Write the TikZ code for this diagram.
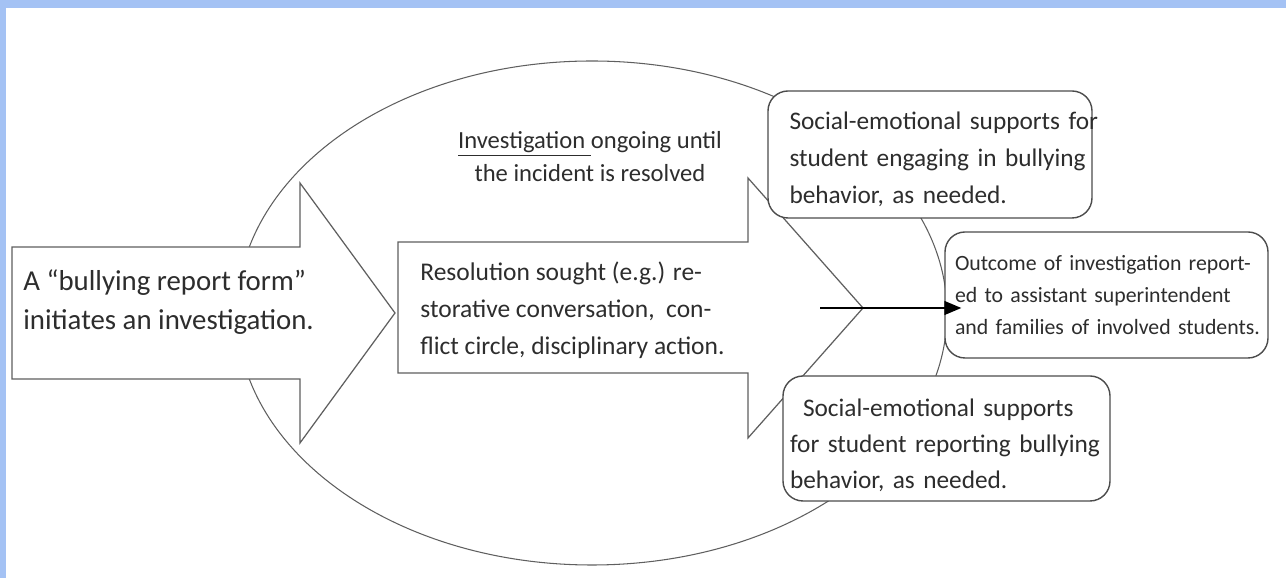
\documentclass[tikz,border=0pt]{standalone}
\usepackage{fontspec}
\setmainfont{Carlito}
\usepackage{tikz}
\usetikzlibrary{arrows.meta}

\definecolor{framebg}{RGB}{164,194,244}
\definecolor{lineg}{RGB}{95,95,95}
\definecolor{textg}{RGB}{45,45,45}

% box text: lines kept as typed, lowered a little inside the box
\newcommand{\boxlines}[2]{\raisebox{-#1}[\height][\depth]{\begin{tabular}{@{}l@{}}#2\end{tabular}}}

\begin{document}
\begin{tikzpicture}[
  blockarrow/.style={draw=lineg, fill=white, line width=0.7pt, line join=miter},
  supportbox/.style={draw=black!70, fill=white, rounded corners=0.4cm, line width=0.8pt,
    minimum width=6.54cm, minimum height=2.5cm, align=left, text=textg},
  every node/.style={text=textg}
]

\useasboundingbox (-11.8, -5.3) rectangle (13.92, 6.26);
\fill[framebg] (-11.8, 6.1) rectangle (13.92, 6.26);
\fill[framebg] (-11.8, -5.3) rectangle (-11.68, 6.26);

\draw[draw=lineg, line width=0.6pt] (0.04, 0) ellipse (7.1cm and 5.04cm);

\draw[blockarrow] (-11.56, 1.32) -- (-5.8, 1.32) -- (-5.8, 2.6) -- (-3.9, 0) -- (-5.8, -2.6) -- (-5.8, -1.32) -- (-11.56, -1.32) -- cycle;
\draw[blockarrow] (-3.84, 1.42) -- (3.16, 1.42) -- (3.16, 2.7) -- (5.46, 0.1) -- (3.16, -2.5) -- (3.16, -1.2) -- (-3.84, -1.2) -- cycle;

\node (ongoing) at (0, 3.13) [align=center, inner sep=0pt, font=\fontsize{14}{18.7}\selectfont] {\underline{Investigation\ }ongoing until\\the incident is resolved};
\node (form) at (-11.34, 0.21) [anchor=west, align=left, inner sep=0pt, font=\fontsize{16.4}{22.1}\selectfont] {A “bullying report form”\\initiates an investigation.};
\node (resolve) at (-3.4, 0.06) [anchor=west, align=left, inner sep=0pt, font=\fontsize{14.5}{21}\selectfont] {Resolution sought (e.g.) re-\\storative conversation,\ \ con-\\flict circle, disciplinary action.};

\node (engaging) at (6.8, 3.17) [supportbox, minimum width=6.48cm, minimum height=2.54cm, text width=5.62cm, inner xsep=0.43cm, font=\fontsize{14.4}{21}\selectfont]
  {\boxlines{0.1cm}{Social-emotional supports for\\student engaging in bullying\\behavior, as needed.}};
\node (outcome) at (10.33, 0.36) [supportbox, minimum width=6.46cm, minimum height=2.52cm, text width=6.06cm, inner xsep=0.2cm, font=\fontsize{12.4}{18.4}\selectfont]
  {\boxlines{0.02cm}{Outcome of investigation report-\\ed to assistant superintendent\\and families of involved students.}};
\node (reporting) at (7.13, -2.51) [supportbox, text width=6.26cm, inner xsep=0.14cm, font=\fontsize{14.4}{20.6}\selectfont]
  {\boxlines{0.14cm}{\hspace*{0.26cm}Social-emotional supports\\for student reporting bullying\\behavior, as needed.}};

\coordinate (lineStart) at (4.6, 0.1);
\draw[-{Triangle[length=0.34cm, width=0.28cm]}, line width=0.8pt, shorten >=-0.34cm] (lineStart) -- (lineStart -| outcome.west);
\end{tikzpicture}
\end{document}
